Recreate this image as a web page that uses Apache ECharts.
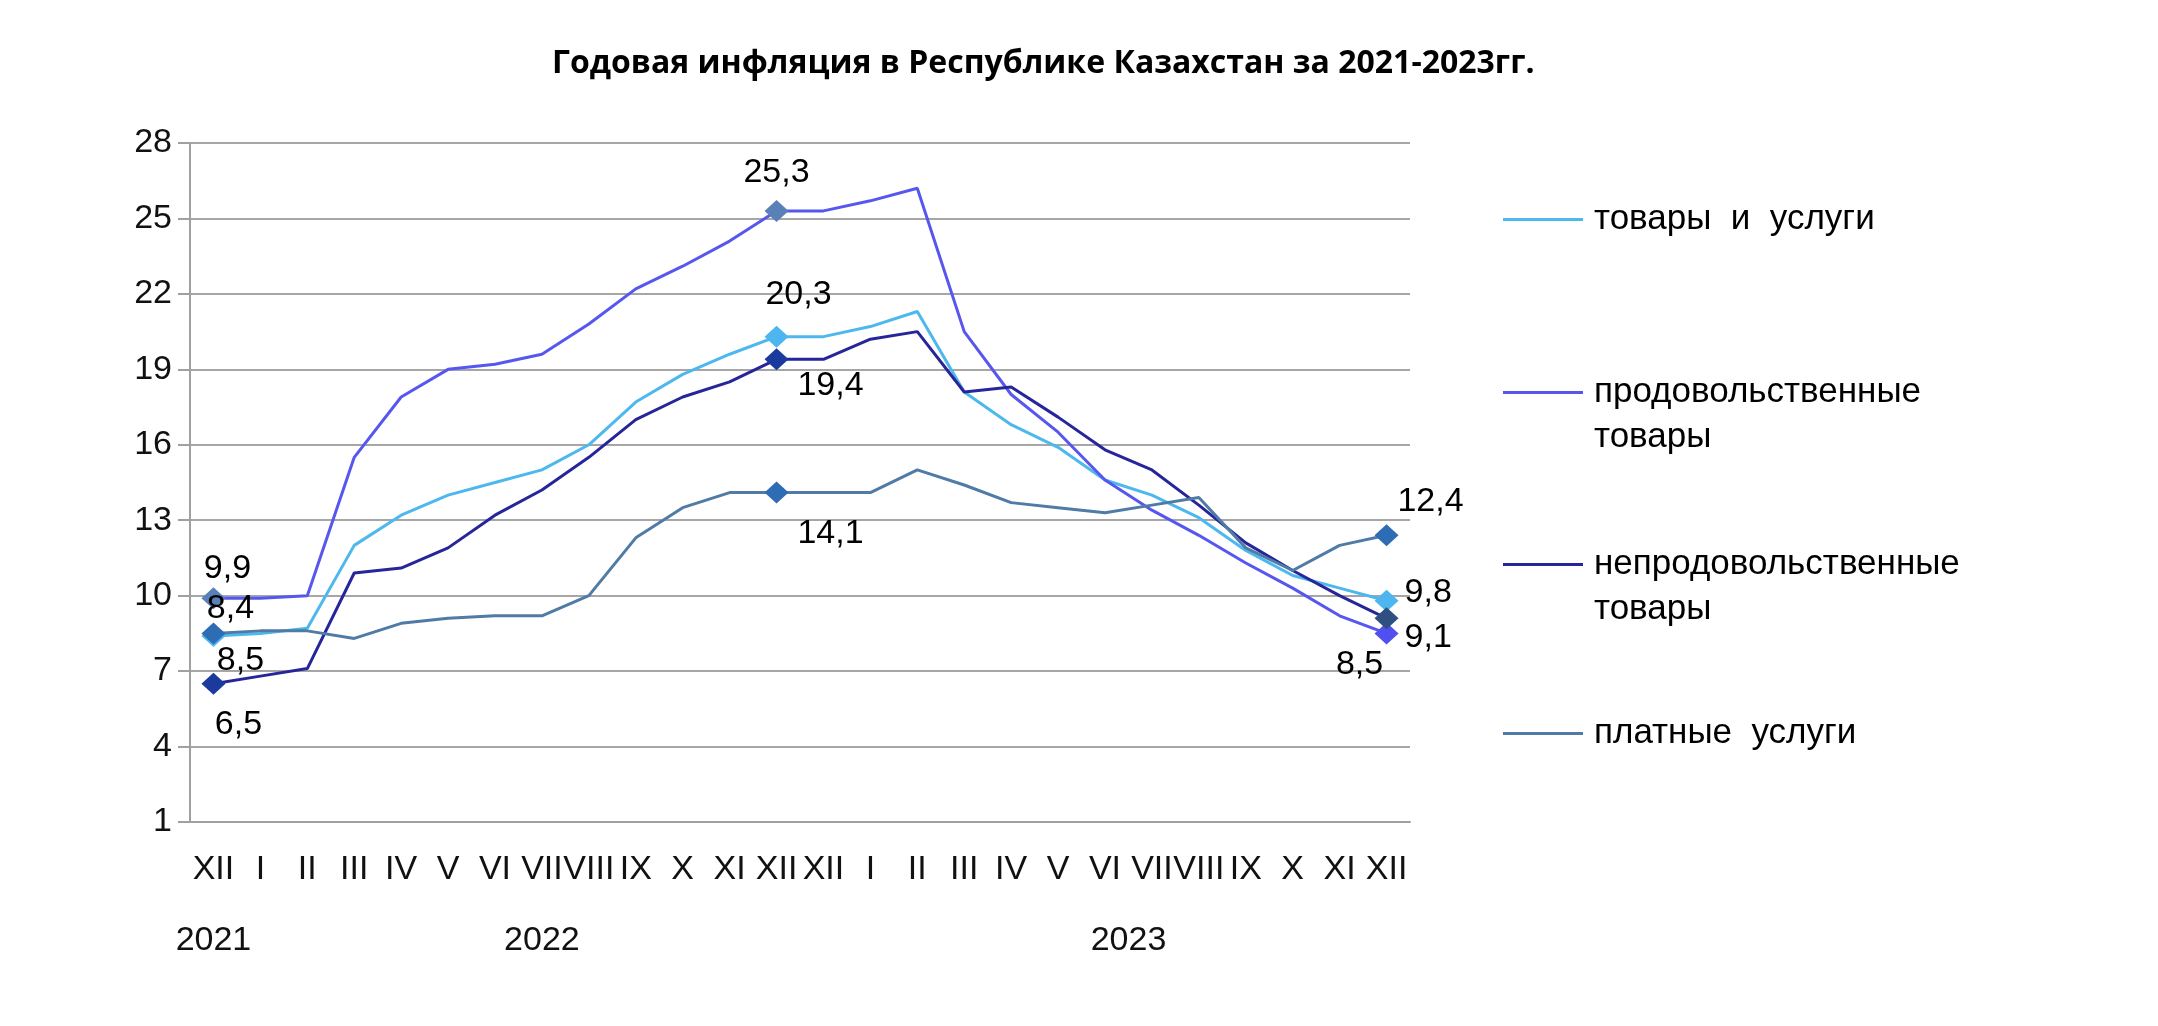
<!DOCTYPE html>
<html>
<head>
<meta charset="utf-8">
<script src="https://cdn.jsdelivr.net/npm/echarts@6/dist/echarts.min.js"></script>
<style>
html,body{margin:0;padding:0;background:#fff;}
#chart{width:2158px;height:1026px;}
</style>
</head>
<body>
<div id="chart"></div>
<script>
// ---- data ----
const titleText = 'Годовая инфляция в Республике Казахстан за 2021-2023гг.';
const categories = ['XII','I','II','III','IV','V','VI','VII','VIII','IX','X','XI','XII','XII','I','II','III','IV','V','VI','VII','VIII','IX','X','XI','XII'];
const yearLabels = ['2021','','','','','','','2022','','','','','','','','','','','','2023','','','','','',''];
const seriesNames = ['товары  и  услуги', 'продовольственные\nтовары', 'непродовольственные\nтовары', 'платные  услуги'];
const overall  = [8.4, 8.5, 8.7, 12.0, 13.2, 14.0, 14.5, 15.0, 16.0, 17.7, 18.8, 19.6, 20.3, 20.3, 20.7, 21.3, 18.1, 16.8, 15.9, 14.6, 14.0, 13.1, 11.8, 10.8, 10.3, 9.8];
const food     = [9.9, 9.9, 10.0, 15.5, 17.9, 19.0, 19.2, 19.6, 20.8, 22.2, 23.1, 24.1, 25.3, 25.3, 25.7, 26.2, 20.5, 18.0, 16.5, 14.6, 13.4, 12.4, 11.3, 10.3, 9.2, 8.5];
const nonfood  = [6.5, 6.8, 7.1, 10.9, 11.1, 11.9, 13.2, 14.2, 15.5, 17.0, 17.9, 18.5, 19.4, 19.4, 20.2, 20.5, 18.1, 18.3, 17.1, 15.8, 15.0, 13.6, 12.1, 11.0, 10.0, 9.1];
const services = [8.5, 8.6, 8.6, 8.3, 8.9, 9.1, 9.2, 9.2, 10.0, 12.3, 13.5, 14.1, 14.1, 14.1, 14.1, 15.0, 14.4, 13.7, 13.5, 13.3, 13.6, 13.9, 11.9, 11.0, 12.0, 12.4];
const markedIdx = [0, 12, 25];

// ---- styles ----
const FONT = 'Liberation Sans';
const FS = 34;
const lineColors = ['#4DB8EE', '#5757F0', '#26269A', '#4F7BA6'];
// marker colour + label placement per series per marked index
const markStyles = [
  { 0: {c:'#4DB6F0', pos:'top', off:[17, 5]}, 12: {c:'#4DB6F0', pos:'top', off:[22, -10]}, 25: {c:'#4DB6F0', pos:'right', off:[2, -8]} },
  { 0: {c:'#5A80B8', pos:'top', off:[14, 2]}, 12: {c:'#5A80B8', pos:'top', off:[0, -6]}, 25: {c:'#5050F0', pos:'bottom', off:[-27, -1]} },
  { 0: {c:'#1A3A9E', pos:'bottom', off:[25, 9]}, 12: {c:'#1A3A9E', pos:'bottom', off:[54, -6]}, 25: {c:'#2F4F80', pos:'right', off:[2, 19]} },
  { 0: {c:'#2E6DB4', pos:'bottom', off:[27, -5]}, 12: {c:'#2E6DB4', pos:'bottom', off:[54, 9]}, 25: {c:'#2E6DB4', pos:'top', off:[44, -2]} }
];

function buildData(values, sIdx) {
  return values.map((v, i) => {
    if (markedIdx.indexOf(i) < 0) return v;
    const m = markStyles[sIdx][i];
    return {
      value: v,
      symbol: 'diamond',
      symbolSize: [24, 22],
      itemStyle: {color: m.c},
      label: {
        show: true, position: m.pos, offset: m.off, distance: 4,
        formatter: p => String(p.value).replace('.', ','),
        fontFamily: FONT, fontSize: FS, color: '#000'
      }
    };
  });
}

const allValues = [overall, food, nonfood, services];
const series = allValues.map((vals, s) => ({
  name: seriesNames[s],
  type: 'line',
  data: buildData(vals, s),
  symbol: 'none',
  showSymbol: true,
  showAllSymbol: true,
  lineStyle: {color: lineColors[s], width: 3},
  itemStyle: {color: lineColors[s]},
  emphasis: {disabled: true},
  z: 3
}));

// one legend per item so a two-line label keeps its icon on the first line
const legendTops = [192, 320, 492, 706];
const legends = seriesNames.map((n, i) => {
  const multi = n.indexOf('\n') >= 0;
  return {
    data: [{name: n, icon: 'rect', itemStyle: {color: lineColors[i]}}],
    left: 1498, top: legendTops[i],
    orient: 'vertical',
    itemWidth: 80, itemHeight: 3,
    selectedMode: false,
    formatter: name => multi ? '{e| }\n' + name.split('\n').map(t => '{a|' + t + '}').join('\n') : name,
    textStyle: {fontFamily: FONT, fontSize: 35, color: '#000', lineHeight: 45, padding: [0, 0, 0, 6],
      rich: {
        e: {fontFamily: FONT, fontSize: 35, lineHeight: 45},
        a: {fontFamily: FONT, fontSize: 35, color: '#000', lineHeight: 45}
      }
    }
  };
});

const chart = echarts.init(document.getElementById('chart'), null, {renderer: 'canvas'});
chart.setOption({
  backgroundColor: '#fff',
  animation: false,
  title: {
    text: titleText, left: 547, top: 43,
    textStyle: {fontFamily: 'Open Sans', fontWeight: 'bold', fontSize: 32, color: '#000'}
  },
  legend: legends,
  grid: {left: 190, right: 748, top: 143, bottom: 204, containLabel: false},
  xAxis: [{
    type: 'category', data: categories, boundaryGap: true,
    axisLine: {show: true, lineStyle: {color: '#A0A0A0', width: 2}},
    axisTick: {show: false},
    axisLabel: {interval: 0, margin: 31, fontFamily: FONT, fontSize: FS, color: '#111', hideOverlap: false}
  }, {
    type: 'category', data: categories, boundaryGap: true, position: 'bottom',
    axisLine: {show: false}, axisTick: {show: false}, splitLine: {show: false},
    axisLabel: {
      interval: 0, margin: 102, fontFamily: FONT, fontSize: FS, color: '#111', hideOverlap: false,
      formatter: (v, i) => yearLabels[i] === '2023' ? '{s|' + yearLabels[i] + '}' : yearLabels[i],
      rich: {s: {fontFamily: FONT, fontSize: FS, color: '#111', padding: [0, 0, 0, 47]}}
    }
  }],
  yAxis: {
    type: 'value', min: 1, max: 28, interval: 3,
    axisLine: {show: true, lineStyle: {color: '#A0A0A0', width: 2}},
    axisTick: {show: true, length: 12, lineStyle: {color: '#A0A0A0', width: 2}},
    splitLine: {show: true, lineStyle: {color: '#A6A6A6', width: 2}},
    axisLabel: {margin: 18, fontFamily: FONT, fontSize: FS, color: '#111'}
  },
  series: series
});
</script>
</body>
</html>
